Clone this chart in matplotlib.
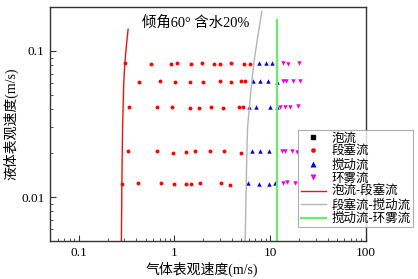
import matplotlib
matplotlib.use("Agg")
import matplotlib.pyplot as plt
import numpy as np

# ---- data ----
slug_x = [0.303, 0.572, 0.912, 1.067, 1.475, 1.93, 2.57, 3.03, 3.90, 5.32, 6.22,
          0.429, 0.71, 1.017, 1.446, 1.99, 3.0, 3.90, 4.92, 5.49,
          0.331, 0.66, 0.94, 1.468, 1.80, 2.44, 3.19, 4.75, 5.16,
          0.327, 0.66, 0.97, 1.32, 1.64, 2.33, 3.31, 4.92,
          0.285, 0.416, 0.718, 1.0, 1.33, 1.48, 1.87, 3.07, 3.78]
slug_y = [0.0824, 0.0820, 0.0818, 0.0830, 0.0820, 0.0826, 0.0820, 0.0820, 0.0822, 0.0820, 0.0820,
          0.0616, 0.0618, 0.0616, 0.0616, 0.0616, 0.0618, 0.0616, 0.0618, 0.0618,
          0.0411, 0.0415, 0.0413, 0.0405, 0.0408, 0.0415, 0.0408, 0.0411, 0.0411,
          0.0206, 0.0206, 0.0200, 0.0203, 0.0205, 0.0207, 0.0207, 0.0200,
          0.0122, 0.0124, 0.0124, 0.0123, 0.0122, 0.0123, 0.0124, 0.0124, 0.0120]

churn_x = [7.72, 9.02, 10.6,
           6.71, 7.87, 9.46, 11.7,
           6.04, 7.21, 9.93, 11.7,
           6.45, 7.76, 9.69,
           5.82, 7.72, 9.81, 11.3]
churn_y = [0.0830, 0.0830, 0.0826,
           0.0620, 0.0620, 0.0622, 0.0616,
           0.0413, 0.0413, 0.0411, 0.0411,
           0.0207, 0.0205, 0.0207,
           0.0124, 0.0123, 0.0123, 0.0124]

annular_x = [13.7, 15.4, 19.9,
             13.8, 14.7, 17.3, 20.4,
             12.7, 14.3, 16.2, 19.8,
             13.2, 14.2, 16.8, 19.0,
             13.7, 15.0, 18.1]
annular_y = [0.0826, 0.0820, 0.0826,
             0.0620, 0.0620, 0.0620, 0.0626,
             0.0411, 0.0411, 0.0413, 0.0418,
             0.0206, 0.0206, 0.0208, 0.0204,
             0.0124, 0.0126, 0.0124]

bubble_x = []
bubble_y = []

# transition boundaries
bs_x = [0.279, 0.282, 0.287, 0.295, 0.303, 0.315, 0.328]
bs_y = [0.005, 0.0124, 0.030, 0.060, 0.082, 0.110, 0.141]

sc_x = [5.49, 5.72, 5.82, 6.07, 6.45, 6.76, 7.36, 8.2]
sc_y = [0.005, 0.020, 0.030, 0.041, 0.062, 0.082, 0.120, 0.186]

ca_x = [11.7, 11.7]
ca_y = [0.005, 0.163]

title_text = "倾角60° 含水20%"
xlabel = "气体表观速度(m/s)"
ylabel = "液体表观速度(m/s)"
legend_labels = ["泡流", "段塞流", "搅动流", "环雾流", "泡流-段塞流", "段塞流-搅动流", "搅动流-环雾流"]

# ---- plot ----
plt.rcParams['font.family'] = ['Liberation Serif', 'Noto Sans CJK SC']
plt.rcParams['axes.unicode_minus'] = False

fig = plt.figure(figsize=(4.18, 2.79), dpi=100)
ax = fig.add_axes([50/418, 38/279, 315.7/418, 234/279])

h_bub, = ax.plot(bubble_x, bubble_y, 's', color='black', ms=2.5, ls='none')
h_slug, = ax.plot(slug_x, slug_y, 'o', color='#ff0000', ms=2.8, ls='none', mec='none')
h_churn, = ax.plot(churn_x, churn_y, '^', color='#0000ee', ms=3.2, ls='none', mec='none')
h_ann, = ax.plot(annular_x, annular_y, 'v', color='#ee00ee', ms=3.2, ls='none', mec='none')
h_bs, = ax.plot(bs_x, bs_y, '-', color='#ee1111', lw=1.0)
h_sc, = ax.plot(sc_x, sc_y, '-', color='#b4b4b4', lw=1.0)
h_ca, = ax.plot(ca_x, ca_y, '-', color='#66ee66', lw=1.6)

ax.set_xscale('log')
ax.set_yscale('log')
ax.set_xlim(0.05, 100)
ax.set_ylim(0.005, 0.2)

ax.set_xticks([0.1, 1, 10, 100])
ax.set_xticklabels(['0.1', '1', '10', '100'])
ax.set_yticks([0.01, 0.1])
ax.set_yticklabels(['0.01', '0.1'])

ax.tick_params(which='major', direction='in', length=4, width=0.8, labelsize=9.5,
               top=False, right=False, color='#333333', pad=4)
ax.tick_params(which='minor', direction='in', length=2, width=0.6,
               top=False, right=False, color='#333333')
for s in ax.spines.values():
    s.set_color('#333333')
    s.set_linewidth(1.0)

ax.text(0.29, 0.932, title_text, transform=ax.transAxes, fontsize=10.4, ha='left', va='center')
ax.set_xlabel(xlabel, fontsize=10, labelpad=2, x=0.48)
ax.set_ylabel(ylabel, fontsize=10, labelpad=2)

leg = fig.legend([h_bub, h_slug, h_churn, h_ann, h_bs, h_sc, h_ca], legend_labels,
                 loc='upper left', bbox_to_anchor=(298/418, 1 - 130/279),
                 fontsize=9, frameon=True, fancybox=False, edgecolor='#999999',
                 borderpad=0.2, labelspacing=0.1, handlelength=2.0, handletextpad=0.5,
                 borderaxespad=0, markerscale=1.2)
leg.get_frame().set_linewidth(0.8)

fig.savefig('out.png', dpi=100)
